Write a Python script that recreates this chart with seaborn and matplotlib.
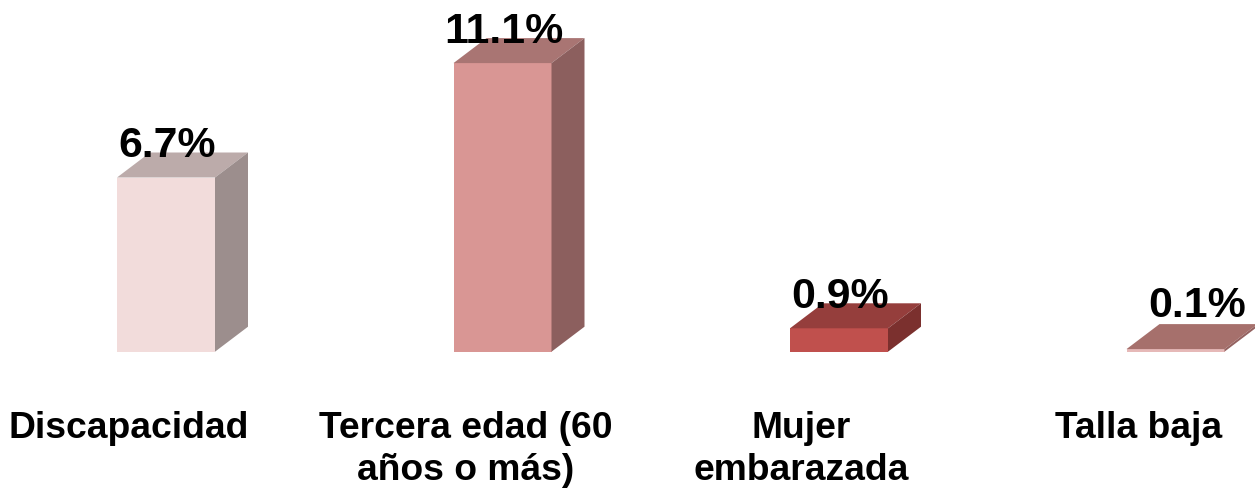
import matplotlib
matplotlib.use("Agg")
import matplotlib.pyplot as plt
import seaborn as sns
import pandas as pd
from matplotlib.patches import Polygon

categories = ["Discapacidad", "Tercera edad (60\naños o más)", "Mujer\nembarazada", "Talla baja"]
values = [6.7, 11.1, 0.9, 0.1]
labels = ["6.7%", "11.1%", "0.9%", "0.1%"]
front_colors = ["#F2DCDB", "#D99694", "#C0504D", "#E6B9B8"]
top_colors = ["#BCABAA", "#A97573", "#953E3C", "#A6706C"]
side_colors = ["#9C8E8D", "#8C5F5E", "#7B302E", "#946260"]

W, H = 1255, 489
sns.set_theme(style="white")
plt.rcParams["font.family"] = ["Liberation Sans", "DejaVu Sans"]

fig = plt.figure(figsize=(W / 100, H / 100), dpi=100)
ax = fig.add_axes([0, 0, 1, 1])
df = pd.DataFrame({"cat": categories, "val": values})
px_x = 336.5
px_y = 26.0
base = 352.7
bar_w = 98 / px_x
sns.barplot(data=df, x="cat", y="val", hue="cat", palette=front_colors, legend=False,
            width=bar_w, saturation=1, linewidth=0, ax=ax)
ax.set_xlim(-166 / px_x, (W - 166) / px_x)
ax.set_ylim(-(H - base) / px_y, base / px_y)
ax.axis("off")

dx = 33 / px_x
dy = 25 / px_y
label_dx = [1, 1, 1, 22]
label_dy = [32.5, 32.5, 32.5, 44.5]
for i, v in enumerate(values):
    l, r = i - bar_w / 2, i + bar_w / 2
    ax.add_patch(Polygon([(l, v), (r, v), (r + dx, v + dy), (l + dx, v + dy)],
                         closed=True, fc=top_colors[i], ec="none"))
    ax.add_patch(Polygon([(r, 0), (r + dx, dy), (r + dx, v + dy), (r, v)],
                         closed=True, fc=side_colors[i], ec="none"))
    ax.text(i + label_dx[i] / px_x, v + label_dy[i] / px_y, labels[i], ha="center", va="center",
            fontsize=30.8, fontweight="bold", color="black")

label_x = [129, 465.5, 801.5, 1138.5]
for i, c in enumerate(categories):
    ax.text((label_x[i] - 166) / px_x, -(411 - base) / px_y, c, ha="center", va="top",
            linespacing=1.27, fontsize=26.8, fontweight="bold", color="black")

fig.savefig("out.png", dpi=100)
